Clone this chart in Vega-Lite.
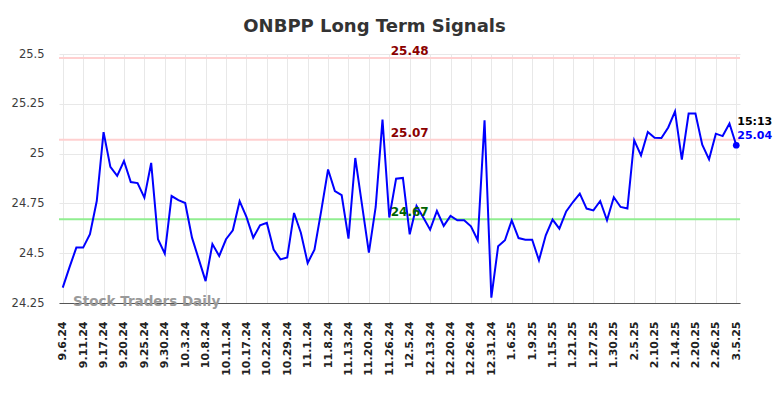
{
  "$schema": "https://vega.github.io/schema/vega-lite/v6.json",
  "width": 681,
  "height": 249,
  "autosize": {"type": "none"},
  "padding": {"left": 59, "top": 54, "right": 44, "bottom": 95},
  "background": "white",
  "config": {"view": {"stroke": null}, "font": "DejaVu Sans"},
  "title": {
    "text": "ONBPP Long Term Signals",
    "font": "DejaVu Sans",
    "fontSize": 18,
    "fontWeight": "bold",
    "color": "#333333",
    "anchor": "middle",
    "frame": "group",
    "offset": 9,
    "dx": -25
  },
  "data": {
    "values": [
      {"date": "9.6.24", "value": 24.327},
      {"date": "9.9.24", "value": 24.43},
      {"date": "9.10.24", "value": 24.528},
      {"date": "9.11.24", "value": 24.528},
      {"date": "9.12.24", "value": 24.595},
      {"date": "9.16.24", "value": 24.762},
      {"date": "9.17.24", "value": 25.108},
      {"date": "9.18.24", "value": 24.933},
      {"date": "9.19.24", "value": 24.888},
      {"date": "9.20.24", "value": 24.963},
      {"date": "9.23.24", "value": 24.857},
      {"date": "9.24.24", "value": 24.852},
      {"date": "9.25.24", "value": 24.779},
      {"date": "9.26.24", "value": 24.953},
      {"date": "9.27.24", "value": 24.57},
      {"date": "9.30.24", "value": 24.498},
      {"date": "10.1.24", "value": 24.787},
      {"date": "10.2.24", "value": 24.766},
      {"date": "10.3.24", "value": 24.752},
      {"date": "10.4.24", "value": 24.578},
      {"date": "10.7.24", "value": 24.469},
      {"date": "10.8.24", "value": 24.36},
      {"date": "10.9.24", "value": 24.546},
      {"date": "10.10.24", "value": 24.486},
      {"date": "10.11.24", "value": 24.57},
      {"date": "10.15.24", "value": 24.615},
      {"date": "10.16.24", "value": 24.761},
      {"date": "10.17.24", "value": 24.682},
      {"date": "10.18.24", "value": 24.578},
      {"date": "10.21.24", "value": 24.64},
      {"date": "10.22.24", "value": 24.652},
      {"date": "10.23.24", "value": 24.518},
      {"date": "10.28.24", "value": 24.469},
      {"date": "10.29.24", "value": 24.479},
      {"date": "10.30.24", "value": 24.702},
      {"date": "10.31.24", "value": 24.603},
      {"date": "11.1.24", "value": 24.451},
      {"date": "11.4.24", "value": 24.518},
      {"date": "11.6.24", "value": 24.714},
      {"date": "11.8.24", "value": 24.92},
      {"date": "11.11.24", "value": 24.812},
      {"date": "11.12.24", "value": 24.791},
      {"date": "11.13.24", "value": 24.573},
      {"date": "11.15.24", "value": 24.978},
      {"date": "11.18.24", "value": 24.74},
      {"date": "11.20.24", "value": 24.503},
      {"date": "11.21.24", "value": 24.732},
      {"date": "11.25.24", "value": 25.171},
      {"date": "11.26.24", "value": 24.679},
      {"date": "11.29.24", "value": 24.874},
      {"date": "12.3.24", "value": 24.878},
      {"date": "12.5.24", "value": 24.595},
      {"date": "12.9.24", "value": 24.737},
      {"date": "12.11.24", "value": 24.679},
      {"date": "12.13.24", "value": 24.618},
      {"date": "12.17.24", "value": 24.712},
      {"date": "12.18.24", "value": 24.637},
      {"date": "12.20.24", "value": 24.687},
      {"date": "12.23.24", "value": 24.665},
      {"date": "12.24.24", "value": 24.665},
      {"date": "12.26.24", "value": 24.635},
      {"date": "12.27.24", "value": 24.565},
      {"date": "12.30.24", "value": 25.167},
      {"date": "12.31.24", "value": 24.277},
      {"date": "1.2.25", "value": 24.535},
      {"date": "1.3.25", "value": 24.565},
      {"date": "1.6.25", "value": 24.665},
      {"date": "1.7.25", "value": 24.576},
      {"date": "1.8.25", "value": 24.568},
      {"date": "1.9.25", "value": 24.568},
      {"date": "1.13.25", "value": 24.464},
      {"date": "1.14.25", "value": 24.59},
      {"date": "1.15.25", "value": 24.669},
      {"date": "1.16.25", "value": 24.623},
      {"date": "1.17.25", "value": 24.71},
      {"date": "1.21.25", "value": 24.757},
      {"date": "1.23.25", "value": 24.799},
      {"date": "1.24.25", "value": 24.724},
      {"date": "1.27.25", "value": 24.715},
      {"date": "1.28.25", "value": 24.762},
      {"date": "1.29.25", "value": 24.665},
      {"date": "1.30.25", "value": 24.781},
      {"date": "2.3.25", "value": 24.732},
      {"date": "2.4.25", "value": 24.724},
      {"date": "2.5.25", "value": 25.067},
      {"date": "2.6.25", "value": 24.991},
      {"date": "2.7.25", "value": 25.108},
      {"date": "2.10.25", "value": 25.08},
      {"date": "2.12.25", "value": 25.078},
      {"date": "2.13.25", "value": 25.131},
      {"date": "2.14.25", "value": 25.212},
      {"date": "2.18.25", "value": 24.97},
      {"date": "2.19.25", "value": 25.201},
      {"date": "2.20.25", "value": 25.201},
      {"date": "2.24.25", "value": 25.045},
      {"date": "2.25.25", "value": 24.971},
      {"date": "2.26.25", "value": 25.1},
      {"date": "2.28.25", "value": 25.088},
      {"date": "3.3.25", "value": 25.151},
      {"date": "3.5.25", "value": 25.042}
    ]
  },
  "layer": [
    {
      "data": {"values": [
        {"level": 25.48, "band": "high"},
        {"level": 25.07, "band": "mid"},
        {"level": 24.67, "band": "low"}
      ]},
      "mark": {"type": "rule", "strokeWidth": 2},
      "encoding": {
        "y": {
          "field": "level", "type": "quantitative",
          "scale": {"domain": [24.25, 25.5], "nice": false, "zero": false},
          "axis": {
            "values": [24.25, 24.5, 24.75, 25, 25.25, 25.5],
            "labelExpr": "toString(datum.value)",
            "title": null,
            "ticks": false,
            "tickSize": 0,
            "domain": false,
            "labelPadding": 15,
            "labelFont": "DejaVu Sans",
            "labelFontSize": 11.5,
            "labelColor": "#3c3c3c",
            "gridColor": "#e8e8e8",
            "gridWidth": 1
          }
        },
        "color": {
          "field": "band", "type": "nominal",
          "scale": {"domain": ["high", "mid", "low"], "range": ["#ffd0d0", "#ffd0d0", "#90ee90"]},
          "legend": null
        }
      }
    },
    {
      "mark": {"type": "line", "color": "#0000ff", "strokeWidth": 2},
      "encoding": {
        "x": {
          "field": "date", "type": "ordinal", "sort": null,
          "scale": {"type": "point", "padding": 0.55},
          "axis": {
            "values": ["9.6.24", "9.11.24", "9.17.24", "9.20.24", "9.25.24", "9.30.24", "10.3.24", "10.8.24", "10.11.24", "10.17.24", "10.22.24", "10.29.24", "11.1.24", "11.8.24", "11.13.24", "11.20.24", "11.26.24", "12.5.24", "12.13.24", "12.20.24", "12.26.24", "12.31.24", "1.6.25", "1.9.25", "1.15.25", "1.21.25", "1.27.25", "1.30.25", "2.5.25", "2.10.25", "2.14.25", "2.20.25", "2.26.25", "3.5.25"],
            "labelAngle": -90,
            "labelOverlap": false,
            "title": null,
            "ticks": false,
            "tickSize": 0,
            "labelPadding": 18,
            "labelFont": "DejaVu Sans",
            "labelFontSize": 11,
            "labelFontWeight": "bold",
            "labelColor": "#222222",
            "domainColor": "#555555",
            "domainWidth": 1.2,
            "grid": true,
            "gridColor": "#e8e8e8",
            "gridWidth": 1
          }
        },
        "y": {"field": "value", "type": "quantitative"}
      }
    },
    {
      "mark": {"type": "point", "filled": true, "color": "#0000ff", "size": 45},
      "encoding": {
        "x": {"field": "date", "type": "ordinal", "sort": null},
        "y": {"field": "value", "type": "quantitative"},
        "opacity": {"condition": {"test": "datum.date === '3.5.25'", "value": 1}, "value": 0}
      }
    },
    {
      "mark": {"type": "text", "font": "DejaVu Sans", "fontWeight": "bold", "fontSize": 12, "color": "#8b0000", "baseline": "alphabetic", "dy": -3},
      "encoding": {
        "x": {"field": "date", "type": "ordinal", "sort": null},
        "y": {"datum": 25.48},
        "text": {"condition": {"test": "datum.date === '12.5.24'", "value": "25.48"}, "value": ""}
      }
    },
    {
      "mark": {"type": "text", "font": "DejaVu Sans", "fontWeight": "bold", "fontSize": 12, "color": "#8b0000", "baseline": "alphabetic", "dy": -3},
      "encoding": {
        "x": {"field": "date", "type": "ordinal", "sort": null},
        "y": {"datum": 25.07},
        "text": {"condition": {"test": "datum.date === '12.5.24'", "value": "25.07"}, "value": ""}
      }
    },
    {
      "mark": {"type": "text", "font": "DejaVu Sans", "fontWeight": "bold", "fontSize": 12, "color": "#006400", "baseline": "alphabetic", "dy": -3},
      "encoding": {
        "x": {"field": "date", "type": "ordinal", "sort": null},
        "y": {"datum": 24.67},
        "text": {"condition": {"test": "datum.date === '12.5.24'", "value": "24.67"}, "value": ""}
      }
    },
    {
      "mark": {"type": "text", "font": "DejaVu Sans", "fontWeight": "bold", "fontSize": 13.5, "color": "#9a9a9a", "align": "left", "baseline": "middle", "dx": 3.5, "dy": -1.5},
      "encoding": {
        "x": {"field": "date", "type": "ordinal", "sort": null},
        "y": {"datum": 24.25},
        "text": {"condition": {"test": "datum.date === '9.9.24'", "value": "Stock Traders Daily"}, "value": ""}
      }
    },
    {
      "mark": {"type": "text", "font": "DejaVu Sans", "fontWeight": "bold", "fontSize": 11, "color": "#000000", "align": "left", "baseline": "middle", "dx": 1, "dy": -23},
      "encoding": {
        "x": {"field": "date", "type": "ordinal", "sort": null},
        "y": {"field": "value", "type": "quantitative"},
        "text": {"condition": {"test": "datum.date === '3.5.25'", "value": "15:13"}, "value": ""}
      }
    },
    {
      "mark": {"type": "text", "font": "DejaVu Sans", "fontWeight": "bold", "fontSize": 11, "color": "#0000ff", "align": "left", "baseline": "middle", "dx": 1, "dy": -9.5},
      "encoding": {
        "x": {"field": "date", "type": "ordinal", "sort": null},
        "y": {"field": "value", "type": "quantitative"},
        "text": {"condition": {"test": "datum.date === '3.5.25'", "value": "25.04"}, "value": ""}
      }
    }
  ]
}
